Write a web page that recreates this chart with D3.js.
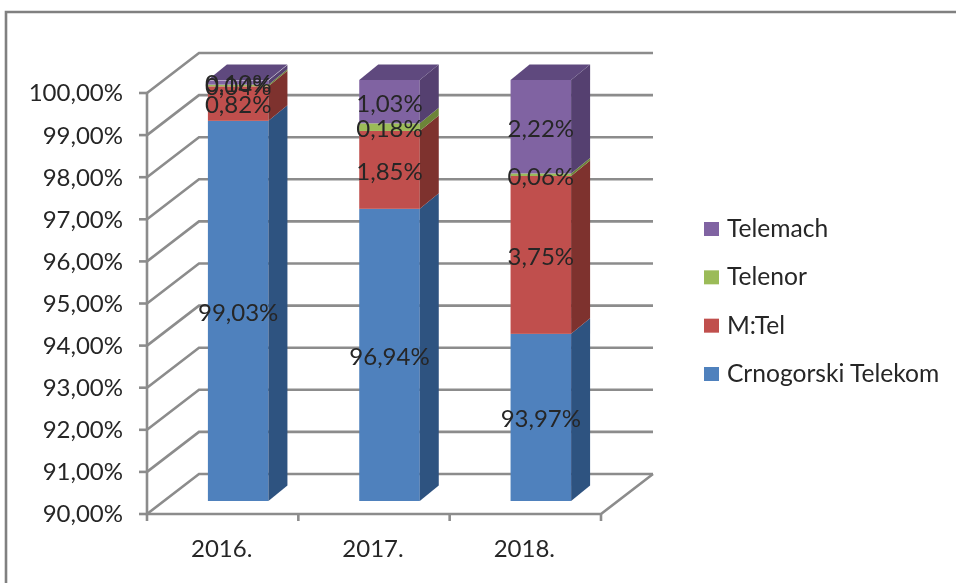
<!DOCTYPE html>
<html>
<head>
<meta charset="utf-8">
<style>
html,body{margin:0;padding:0;background:#fff;}
svg{display:block;font-family:Lato,"Open Sans",sans-serif;}
</style>
<script src="https://cdn.jsdelivr.net/npm/d3@7"></script>
</head>
<body>
<svg id="chart" width="956" height="583"></svg>
<script>
const years = ["2016.", "2017.", "2018."];
const seriesNames = ["Crnogorski Telekom", "M:Tel", "Telenor", "Telemach"];
const telekom = [99.03, 96.94, 93.97];
const mtel = [0.82, 1.85, 3.75];
const telenor = [0.04, 0.18, 0.06];
const telemach = [0.10, 1.03, 2.22];
const yTicks = [90, 91, 92, 93, 94, 95, 96, 97, 98, 99, 100];
const frontColors = ["#4f81bd", "#c0504d", "#9bbb59", "#8064a2"];
const sideColors = ["#2f5280", "#7e302e", "#6c8438", "#54406f"];
const topColor = "#5f4a7e";
const gridColor = "#8c8c8c";
const textColor = "#262626";

const svg = d3.select("#chart");
const fmt = v => v.toFixed(2).replace(".", ",") + "%";

svg.append("defs").append("filter").attr("id", "soft")
  .attr("x", 0).attr("y", 0).attr("width", 1).attr("height", 1)
  .attr("filterUnits", "objectBoundingBox")
  .append("feGaussianBlur").attr("stdDeviation", 0.45);

const root = svg.append("g").attr("filter", "url(#soft)");
root.append("rect").attr("width", 956).attr("height", 583).attr("fill", "#fff");

// frame
root.append("path").attr("d", "M6,583V12H956").attr("fill", "none")
  .attr("stroke", "#808080").attr("stroke-width", 2.6);

// plot geometry: front plane of the 3D box, and the offset of its back wall
const x = d3.scaleBand().domain(years).range([147, 601]).paddingInner(0.6).paddingOuter(0.3);
const yAxisScale = d3.scaleLinear().domain([90, 100]).range([514, 93]);
const wallDx = 52, wallDy = -40;
const barDx = 15.5, barDy = -13;
const depthDx = 19, depthDy = -15.5;
const yBar = v => yAxisScale(v) + barDy;

// walls, floor
const walls = root.append("g").attr("fill", "none").attr("stroke", gridColor).attr("stroke-width", 2.6);
yTicks.forEach(t => {
  const y = yAxisScale(t);
  walls.append("path").attr("d", `M147,${y}L${147 + wallDx},${y + wallDy}H${601 + wallDx}`);
  walls.append("path").attr("d", `M139,${y}H147`);
});
walls.append("path").attr("d", `M147,${yAxisScale(100)}V${yAxisScale(90)}H601L${601 + wallDx},${yAxisScale(90) + wallDy}`);
const xEdges = [x.range()[0], ...years.slice(1).map(c => x(c) - x.step() * 0.3), x.range()[1]];
xEdges.forEach(e => walls.append("path").attr("d", `M${e},${yAxisScale(90)}V${yAxisScale(90) + 7}`));

// y labels
root.append("g").selectAll("text").data(yTicks).join("text")
  .attr("x", 123).attr("y", d => yAxisScale(d)).attr("dy", "0.35em")
  .attr("text-anchor", "end").attr("font-size", 24).attr("fill", textColor)
  .text(d => fmt(d));

// x labels
root.append("g").selectAll("text").data(years).join("text")
  .attr("x", d => x(d) + x.bandwidth() / 2 - 1).attr("y", 549).attr("dy", "0.35em")
  .attr("text-anchor", "middle").attr("font-size", 24).attr("fill", textColor)
  .text(d => d);

// bars
const seriesValues = [telekom, mtel, telenor, telemach];
const bars = root.append("g");
const labels = [];
years.forEach((yr, i) => {
  let base = 0;
  const bx = x(yr) + barDx, bw = x.bandwidth();
  seriesValues.forEach((vals, s) => {
    const top = base + vals[i];
    const y0 = yBar(Math.max(base, 90)), y1 = yBar(top);
    bars.append("rect").attr("x", bx).attr("y", y1).attr("width", bw).attr("height", y0 - y1)
      .attr("fill", frontColors[s]);
    bars.append("polygon").attr("fill", sideColors[s]).attr("points", [
      [bx + bw, y0], [bx + bw, y1], [bx + bw + depthDx, y1 + depthDy], [bx + bw + depthDx, y0 + depthDy]
    ].join(" "));
    labels.push({ x: bx + bw / 2, y: (y0 + y1) / 2 + 1.5, t: fmt(vals[i]) });
    base = top;
  });
  const yt = yBar(100);
  bars.append("polygon").attr("fill", topColor).attr("points", [
    [bx, yt], [bx + bw, yt], [bx + bw + depthDx, yt + depthDy], [bx + depthDx, yt + depthDy]
  ].join(" "));
});

// value labels
root.append("g").selectAll("text").data(labels).join("text")
  .attr("x", d => d.x).attr("y", d => d.y).attr("dy", "0.35em")
  .attr("text-anchor", "middle").attr("font-size", 24).attr("fill", textColor)
  .text(d => d.t);

// legend
const legendY = d3.scalePoint().domain(seriesNames).range([374, 229]);
const legend = root.append("g").selectAll("g").data(seriesNames).join("g")
  .attr("transform", d => `translate(704,${legendY(d)})`);
legend.append("rect").attr("x", 0).attr("y", -7).attr("width", 15).attr("height", 14)
  .attr("fill", (d, i) => frontColors[i]);
legend.append("text").attr("x", 23).attr("y", -0.5).attr("dy", "0.35em")
  .attr("font-size", 24.6).attr("fill", textColor).text(d => d);
</script>
</body>
</html>
